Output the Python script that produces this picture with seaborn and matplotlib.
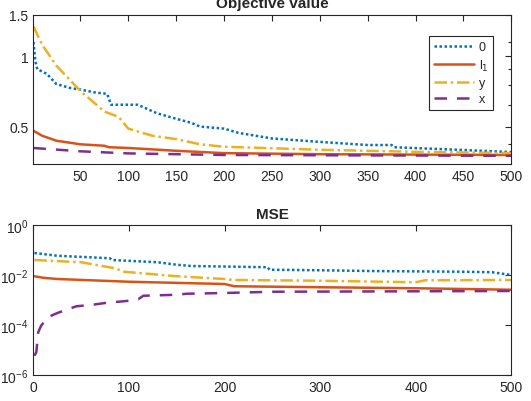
import matplotlib.pyplot as plt
import matplotlib.ticker as mticker
import numpy as np
import pandas as pd
import seaborn as sns

# values (iteration, value); repeated x = a step
obj_0_it = [1, 3, 5, 15, 25, 40, 50, 65, 78, 82, 110, 130, 150, 165, 175, 200, 215, 250, 300, 350, 375, 378, 450, 500]
obj_0 = [1.15, 0.95, 0.88, 0.84, 0.76, 0.73, 0.72, 0.70, 0.69, 0.62, 0.62, 0.57, 0.54, 0.52, 0.50, 0.49, 0.47, 0.445, 0.43, 0.417, 0.417, 0.408, 0.397, 0.389]

obj_l1_it = [1, 10, 25, 50, 75, 80, 100, 150, 200, 300, 500]
obj_l1 = [0.48, 0.457, 0.435, 0.42, 0.414, 0.408, 0.405, 0.394, 0.385, 0.381, 0.378]

obj_y_it = [1, 10, 25, 50, 75, 90, 100, 125, 150, 175, 200, 250, 300, 400, 500]
obj_y = [1.34, 1.12, 0.91, 0.71, 0.58, 0.55, 0.49, 0.457, 0.442, 0.42, 0.41, 0.404, 0.398, 0.39, 0.385]

obj_x_it = [1, 50, 100, 200, 500]
obj_x = [0.405, 0.392, 0.384, 0.378, 0.375]

mse_0_it = [1, 25, 80, 82, 130, 150, 165, 245, 247, 300, 350, 450, 480, 500]
mse_0 = [10**-1.12, 10**-1.23, 10**-1.33, 10**-1.40, 10**-1.49, 10**-1.59, 10**-1.64, 10**-1.69,
         10**-1.79, 10**-1.81, 10**-1.84, 10**-1.87, 10**-1.89, 10**-2.0]

mse_l1_it = [1, 10, 25, 100, 200, 210, 300, 400, 500]
mse_l1 = [10**-2.05, 10**-2.11, 10**-2.16, 10**-2.27, 10**-2.36, 10**-2.45, 10**-2.49, 10**-2.53, 10**-2.59]

mse_y_it = [1, 50, 85, 95, 150, 200, 210, 300, 400, 410, 500]
mse_y = [10**-1.40, 10**-1.49, 10**-1.73, 10**-1.87, 10**-2.05, 10**-2.16, 10**-2.2, 10**-2.23,
         10**-2.29, 10**-2.21, 10**-2.2]

mse_x_it = [1, 3, 5, 8, 15, 25, 45, 60, 75, 100, 110, 115, 150, 160, 200, 250, 500]
mse_x = [10**-5.23, 10**-5.09, 10**-4.29, 10**-4.03, 10**-3.69, 10**-3.52, 10**-3.25, 10**-3.2,
         10**-3.12, 10**-3.03, 10**-2.96, 10**-2.83, 10**-2.79, 10**-2.75, 10**-2.72, 10**-2.67, 10**-2.64]

labels = ["0", "l$_1$", "y", "x"]
colors = ["#0072BD", "#D95319", "#EDB120", "#7E2F8E"]
styles = [(0, (1, 1)), "-", (0, (5, 1.5, 1, 1.5)), (0, (5, 4))]

sns.set_style("white")
plt.rcParams["font.family"] = ["Liberation Sans", "DejaVu Sans"]
plt.rcParams["font.size"] = 10

fig = plt.figure(figsize=(5.31, 4.02), dpi=100)
ax1 = fig.add_axes([0.063, 0.5896, 0.900, 0.3706])
ax2 = fig.add_axes([0.063, 0.0647, 0.900, 0.3731])

top = [(obj_0_it, obj_0), (obj_l1_it, obj_l1), (obj_y_it, obj_y), (obj_x_it, obj_x)]
bottom = [(mse_0_it, mse_0), (mse_l1_it, mse_l1), (mse_y_it, mse_y), (mse_x_it, mse_x)]

for ax, series in [(ax1, top), (ax2, bottom)]:
    for (xs, ys), lab, c, ls in zip(series, labels, colors, styles):
        df = pd.DataFrame({"it": xs, "val": ys})
        sns.lineplot(data=df, x="it", y="val", ax=ax, estimator=None, sort=False,
                     color=c, linestyle=ls, linewidth=1.8, label=lab)

# top panel
ax1.set_yscale("log")
ax1.set_xlim(1, 500)
ax1.set_ylim(0.346, 1.5)
ax1.set_xticks(np.arange(50, 501, 50))
ax1.set_yticks([0.5, 1, 1.5])
ax1.yaxis.set_major_formatter(mticker.FuncFormatter(lambda v, p: f"{v:g}"))
ax1.yaxis.set_minor_locator(mticker.FixedLocator([0.42, 0.62, 0.75, 0.88, 1.15]))
ax1.yaxis.set_minor_formatter(mticker.NullFormatter())
ax1.set_title("Objective value", fontsize=11, fontweight="bold", pad=6)
leg = ax1.legend(loc="upper right", fontsize=9, handlelength=3.2, handletextpad=0.4,
                 labelspacing=0.35, borderpad=0.4, fancybox=False, framealpha=1,
                 bbox_to_anchor=(0.975, 0.9))
leg.get_frame().set_edgecolor("#262626")
leg.get_frame().set_linewidth(0.8)

# bottom panel
ax2.set_yscale("log")
ax2.set_xlim(0, 500)
ax2.set_ylim(1e-6, 1)
ax2.set_xticks(np.arange(0, 501, 100))
ax2.yaxis.set_major_locator(mticker.FixedLocator([1e-6, 1e-4, 1e-2, 1]))
ax2.yaxis.set_minor_locator(mticker.NullLocator())
ax2.set_title("MSE", fontsize=11, fontweight="bold", pad=5)
if ax2.get_legend() is not None:
    ax2.get_legend().remove()

for ax in (ax1, ax2):
    ax.set_xlabel("")
    ax.set_ylabel("")
    ax.tick_params(direction="in", top=True, right=True, which="both",
                   length=4, width=0.8, colors="#262626", labelcolor="#262626", labelsize=10)
    ax.tick_params(which="minor", length=2.5)
    for s in ax.spines.values():
        s.set_color("#262626")
        s.set_linewidth(0.8)

fig.savefig("out.png", dpi=100)
